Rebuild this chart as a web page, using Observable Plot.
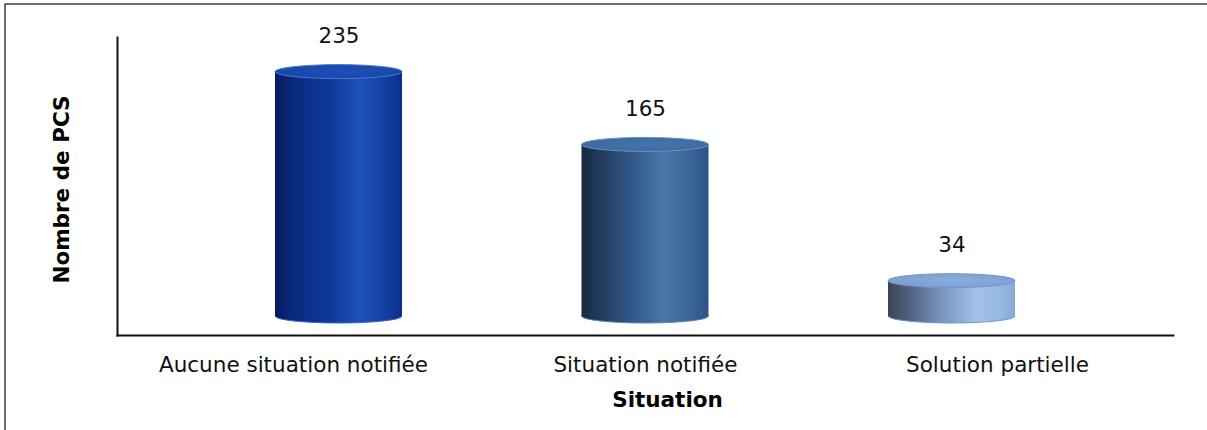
<!DOCTYPE html>
<html>
<head>
<meta charset="utf-8">
<script src="https://cdn.jsdelivr.net/npm/d3@7"></script>
<script src="https://cdn.jsdelivr.net/npm/@observablehq/plot@0.6"></script>
<style>
  body { margin: 0; background: #fff; }
  #chart svg { display: block; }
</style>
</head>
<body>
<div id="chart"></div>
<script>
// Number of PCS per situation
const categories = ["Aucune situation notifiée", "Situation notifiée", "Solution partielle"];
const counts = [235, 165, 34];
const xTitle = "Situation";
const yTitle = "Nombre de PCS";

const rows = categories.map((c, i) => ({situation: c, pcs: counts[i]}));

// Cylinder shading per bar: horizontal gradient of the side, colour of the lid
const sideStops = [
  [[0, "#061c5e"], [0.15, "#0a2a80"], [0.45, "#10399d"], [0.66, "#1f52b8"], [0.86, "#1241a3"], [1, "#0a2f8a"]],
  [[0, "#18293f"], [0.15, "#223b5e"], [0.45, "#365e90"], [0.64, "#4a76a8"], [0.86, "#3b6596"], [1, "#2c5383"]],
  [[0, "#394355"], [0.15, "#4e5f7b"], [0.45, "#7b9ac4"], [0.7, "#a3c2ea"], [0.9, "#95b6e1"], [1, "#88aad8"]]
];
const lidFill = ["#1a47a8", "#3d6a9e", "#7d9ecd"];
const lidStroke = ["#4a77cf", "#6892c4", "#6e96d0"];
const baseStroke = ["#3c64c2", "#5a83b8", "#6e96d0"];

const FONT = 21.5;
const W = 127;            // cylinder width in px
const bandStep = 352;     // (1173 - 117) / 3
const inset = (bandStep - W) / 2;
const ry = 7;             // half height of the elliptical lid
const depthShift = 45.5;  // 3D view pulls the outer cylinders toward the middle

const marks = [];
rows.forEach((row, i) => {
  const dx = (1 - i) * depthShift;
  const common = {x: "situation", insetLeft: inset, insetRight: inset, dx};
  // bottom ellipse
  marks.push(Plot.barY([row], {...common, y1: 0, y2: 0, insetTop: -ry, insetBottom: -ry,
    rx: W / 2, ry, fill: `url(#side${i})`, stroke: baseStroke[i], strokeWidth: 1}));
  // cylinder side
  marks.push(Plot.barY([row], {...common, y1: 0, y2: "pcs", fill: `url(#side${i})`}));
  // top lid
  marks.push(Plot.barY([row], {...common, y1: "pcs", y2: "pcs", insetTop: -ry, insetBottom: -ry,
    rx: W / 2, ry, fill: `url(#lid${i})`, stroke: lidStroke[i], strokeWidth: 1}));
  // value label
  marks.push(Plot.text([row], {x: "situation", y: "pcs", text: d => String(d.pcs),
    dx, dy: -36, fontSize: FONT, fill: "#111"}));
});

const chart = Plot.plot({
  width: 1207,
  height: 430,
  marginLeft: 117,
  marginRight: 34,
  marginTop: 37,
  marginBottom: 95,
  style: {fontFamily: "'DejaVu Sans', Verdana, sans-serif", fontSize: `${FONT}px`, color: "#000", background: "#fff"},
  x: {domain: categories, padding: 0, label: null},
  y: {domain: [0, 268], range: [316, 37.3], axis: null},
  marks: [
    ...marks,
    Plot.axisX({tickSize: 0, tickPadding: 21, fontSize: FONT, label: null, fill: "#111"}),
    Plot.frame({anchor: "left", stroke: "#111", strokeWidth: 2}),
    Plot.frame({anchor: "bottom", stroke: "#111", strokeWidth: 2}),
    Plot.text([xTitle], {frameAnchor: "bottom", dy: 71, dx: 22, fontWeight: "bold", fontSize: FONT, fill: "#000"}),
    Plot.text([yTitle], {frameAnchor: "left", textAnchor: "middle", rotate: -90, dx: -55, dy: 3,
      fontWeight: "bold", fontSize: FONT, fill: "#000"})
  ]
});

// gradients used by the cylinders, plus the outer chart border
const svg = d3.select(chart);
const defs = svg.insert("defs", ":first-child");
sideStops.forEach((stops, i) => {
  const g = defs.append("linearGradient").attr("id", `side${i}`).attr("x1", 0).attr("x2", 1).attr("y1", 0).attr("y2", 0);
  stops.forEach(([o, c]) => g.append("stop").attr("offset", o).attr("stop-color", c));
  const lid = defs.append("radialGradient").attr("id", `lid${i}`).attr("cx", 0.55).attr("cy", 0.5).attr("r", 0.6);
  lid.append("stop").attr("offset", 0).attr("stop-color", d3.color(lidFill[i]).brighter(0.25).formatHex());
  lid.append("stop").attr("offset", 1).attr("stop-color", lidFill[i]);
});
svg.insert("rect", "defs + *")
  .attr("x", 5).attr("y", 4).attr("width", 1300).attr("height", 500)
  .attr("fill", "none").attr("stroke", "#222").attr("stroke-width", 1.3);

document.getElementById("chart").append(chart);
</script>
</body>
</html>
